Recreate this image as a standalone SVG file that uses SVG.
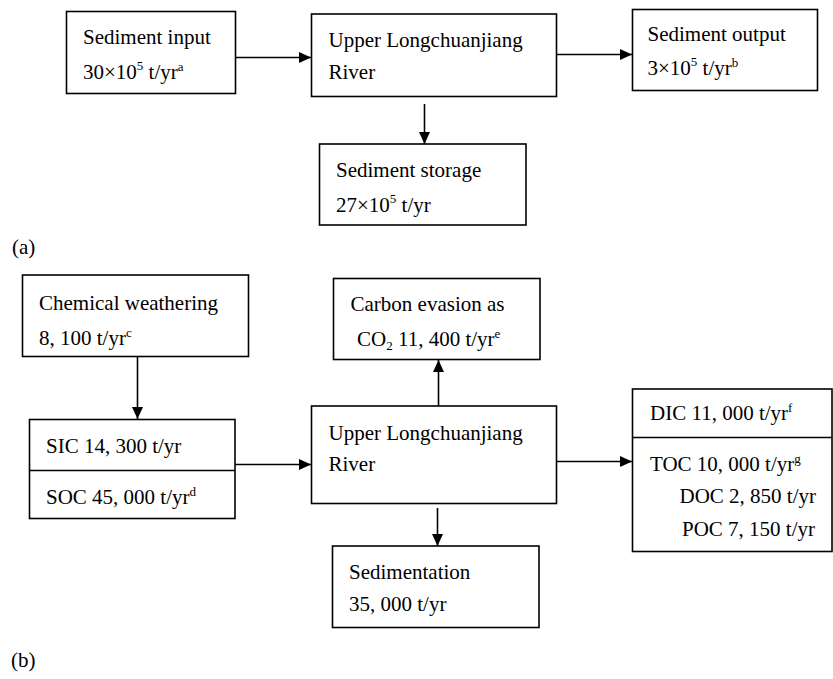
<svg xmlns="http://www.w3.org/2000/svg" width="833" height="679" viewBox="0 0 833 679">
<defs>
<style>
.box{fill:#fff;stroke:#000;stroke-width:1.6}
.t{font-family:"Liberation Serif","Times New Roman",serif;font-size:21px;fill:#000}
.sup{font-size:13px}
.ln{stroke:#000;stroke-width:1.6;fill:none}
</style>
<marker id="ah" markerWidth="12" markerHeight="11" refX="12" refY="5.5" orient="auto" markerUnits="userSpaceOnUse">
<path d="M0,0 L12,5.5 L0,11 Z" fill="#000"/>
</marker>
</defs>
<rect width="833" height="679" fill="#fff"/>

<g id="a-input">
<rect class="box" x="66.5" y="11.5" width="169" height="82"/>
<text class="t" x="83" y="44">Sediment input</text>
<text class="t" x="83" y="79">30×10<tspan class="sup" dy="-9">5</tspan><tspan dy="9"> t/yr</tspan><tspan class="sup" dy="-8">a</tspan></text>
</g>
<g id="a-river">
<rect class="box" x="311.5" y="14" width="245" height="82.5"/>
<text class="t" x="328.5" y="46.5">Upper Longchuanjiang</text>
<text class="t" x="328.5" y="79">River</text>
</g>
<g id="a-output">
<rect class="box" x="632.5" y="9.5" width="185" height="81"/>
<text class="t" x="647.5" y="40.5">Sediment output</text>
<text class="t" x="647.5" y="74.5">3×10<tspan class="sup" dy="-9">5</tspan><tspan dy="9"> t/yr</tspan><tspan class="sup" dy="-8">b</tspan></text>
</g>
<g id="a-storage">
<rect class="box" x="319.5" y="144" width="206.5" height="81"/>
<text class="t" x="336" y="177">Sediment storage</text>
<text class="t" x="336" y="211.5">27×10<tspan class="sup" dy="-9">5</tspan><tspan dy="9"> t/yr</tspan></text>
</g>
<text class="t" x="12" y="254" id="label-a">(a)</text>

<g id="b-chem">
<rect class="box" x="22.5" y="275" width="226" height="81.5"/>
<text class="t" x="39" y="310">Chemical weathering</text>
<text class="t" x="39" y="345">8, 100 t/yr<tspan class="sup" dy="-8">c</tspan></text>
</g>
<g id="b-carbon">
<rect class="box" x="333.5" y="278.5" width="206.5" height="81"/>
<text class="t" x="350.5" y="311">Carbon evasion as</text>
<text class="t" x="357" y="346">CO<tspan class="sup" font-size="14" dy="4">2</tspan><tspan dy="-4"> 11, 400 t/yr</tspan><tspan class="sup" dy="-8">e</tspan></text>
</g>
<g id="b-sic">
<rect class="box" x="29.5" y="419.5" width="205.5" height="99"/>
<line class="ln" x1="29.5" y1="470.5" x2="235" y2="470.5"/>
<text class="t" x="46" y="453">SIC 14, 300 t/yr</text>
<text class="t" x="46" y="503.5">SOC 45, 000 t/yr<tspan class="sup" dy="-8">d</tspan></text>
</g>
<g id="b-river">
<rect class="box" x="311.5" y="406" width="245" height="97.5"/>
<text class="t" x="328.5" y="440">Upper Longchuanjiang</text>
<text class="t" x="328.5" y="471">River</text>
</g>
<g id="b-sedimentation">
<rect class="box" x="332.5" y="546" width="206.5" height="81.5"/>
<text class="t" x="349" y="579">Sedimentation</text>
<text class="t" x="349" y="610.5">35, 000 t/yr</text>
</g>
<g id="b-output">
<rect class="box" x="632.5" y="389" width="199.5" height="162.5"/>
<line class="ln" x1="632.5" y1="437.5" x2="832" y2="437.5"/>
<text class="t" x="650" y="420">DIC 11, 000 t/yr<tspan class="sup" dy="-8">f</tspan></text>
<text class="t" x="650" y="471">TOC 10, 000 t/yr<tspan class="sup" dy="-8">g</tspan></text>
<text class="t" x="679.5" y="503">DOC 2, 850 t/yr</text>
<text class="t" x="682" y="535.5">POC 7, 150 t/yr</text>
</g>
<text class="t" x="11" y="667" id="label-b">(b)</text>

<g id="connectors">
<line class="ln" x1="236" y1="57.5" x2="311" y2="57.5" marker-end="url(#ah)"/>
<line class="ln" x1="557" y1="54.5" x2="632" y2="54.5" marker-end="url(#ah)"/>
<line class="ln" x1="424.5" y1="104" x2="424.5" y2="144" marker-end="url(#ah)"/>
<line class="ln" x1="137.5" y1="357" x2="137.5" y2="419" marker-end="url(#ah)"/>
<line class="ln" x1="235" y1="464.5" x2="311" y2="464.5" marker-end="url(#ah)"/>
<line class="ln" x1="438.5" y1="406" x2="438.5" y2="360" marker-end="url(#ah)"/>
<line class="ln" x1="557" y1="461.5" x2="632" y2="461.5" marker-end="url(#ah)"/>
<line class="ln" x1="437.5" y1="508" x2="437.5" y2="546" marker-end="url(#ah)"/>
</g>
</svg>
